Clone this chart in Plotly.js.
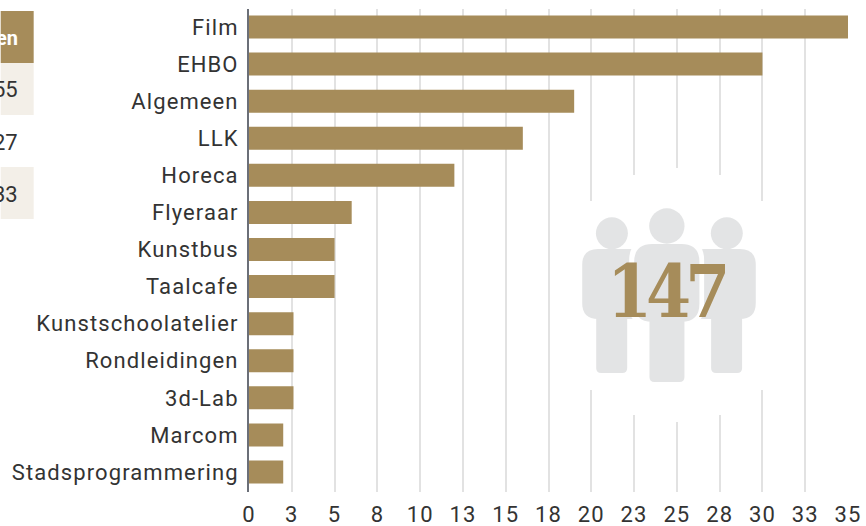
<!DOCTYPE html>
<html><head><meta charset="utf-8">
<script src="https://cdn.plot.ly/plotly-3.0.1.min.js"></script>
<style>html,body{margin:0;padding:0;background:#fff;overflow:hidden}#c{width:866px;height:526px}
.ytick text,.xtick text{letter-spacing:1.1px}
.annotation:last-of-type text{letter-spacing:-6px}</style>
</head><body><div id="c"></div>
<script>
const categories = ["Film","EHBO","Algemeen","LLK","Horeca","Flyeraar","Kunstbus","Taalcafe","Kunstschoolatelier","Rondleidingen","3d-Lab","Marcom","Stadsprogrammering"];
const values = [35,30,19,16,12,6,5,5,2.6,2.6,2.6,2,2];
const tickValues = [0,2.5,5,7.5,10,12.5,15,17.5,20,22.5,25,27.5,30,32.5,35];
const tickLabels = ["0","3","5","8","10","13","15","18","20","23","25","28","30","33","35"];
const tableHeader = "en";
const tableRows = ["55","27","33"];
const totalLabel = "147";

const W=866,H=526,L=248.5,R=848,T=9,B=492;
const GOLD="#a68c5a", GREY="#e3e4e5", CREAM="#f3efe8";
const px=x=>(x-L)/(R-L), py=y=>1-(y-T)/(B-T);
const pxShape=(o)=>Object.assign({xref:'paper',yref:'paper',layer:'above',line:{width:0}},o);
function rect(x0,y0,x1,y1,fill){
  return pxShape({type:'rect',x0:px(x0),x1:px(x1),y0:py(y0),y1:py(y1),fillcolor:fill});
}
function rrect(x0,y0,x1,y1,r,fill){
  const P=(x,y)=>px(x)+','+py(y);
  const d='M'+P(x0+r,y0)+'L'+P(x1-r,y0)+'Q'+P(x1,y0)+' '+P(x1,y0+r)+'L'+P(x1,y1-r)+'Q'+P(x1,y1)+' '+P(x1-r,y1)+'L'+P(x0+r,y1)+'Q'+P(x0,y1)+' '+P(x0,y1-r)+'L'+P(x0,y0+r)+'Q'+P(x0,y0)+' '+P(x0+r,y0)+'Z';
  return pxShape({type:'path',path:d.replace(/,/g,' '),fillcolor:fill});
}
function circle(cx,cy,r,fill){
  return pxShape({type:'circle',x0:px(cx-r),x1:px(cx+r),y0:py(cy+r),y1:py(cy-r),fillcolor:fill});
}
const shapes=[
  // white patch that interrupts the gridlines behind the figures
  rect(585,201,770,390,'#fff'),
  rect(625,175,727,415,'#fff'),
  rect(665,168,685,422,'#fff'),
  // left table
  rect(0,11,33,63,GOLD),
  rect(0,63,33,115,CREAM),
  rect(0,167,33,219,CREAM),
  // figures
  circle(611.7,233.3,16,GREY),
  circle(726.7,233.3,16,GREY),
  rrect(582,249,650,319,16,GREY),
  rrect(688,249,755.7,319,16,GREY),
  rrect(596,310,627,373,5,GREY),
  rrect(711,310,742,373,5,GREY),
  rrect(629,240,704,326,20,'#fff'),
  circle(666.7,226,17.7,GREY),
  rrect(634,244,699.3,321.7,18,GREY),
  rrect(649.3,310,684.3,382,5,GREY),
];
const textOf=(text,x,y,size,color,anchor,family,weight)=>({xref:'paper',yref:'paper',x:px(x),y:py(y),text,showarrow:false,xanchor:anchor,yanchor:'middle',font:{size,color,family,weight},borderpad:0,xshift:0});
const annotations=[
  textOf(tableHeader,18,38,20,'#fff','right','Roboto',700),
  ...tableRows.map((t,i)=>textOf(t,18,90+i*52,22,'#333','right','Roboto',400)),
  textOf(totalLabel,665,291,72,GOLD,'center','"DejaVu Serif Condensed", serif',700),
];
Plotly.newPlot('c',[{
  type:'bar',orientation:'h',y:categories,x:values,
  marker:{color:GOLD},width:0.62,hoverinfo:'x+y'
}],{
  width:W,height:H,paper_bgcolor:'#fff',plot_bgcolor:'#fff',showlegend:false,
  margin:{l:L,r:W-R,t:T,b:H-B,pad:0},
  font:{family:'Roboto',size:22,color:'#333'},
  xaxis:{range:[0,35],tickmode:'array',tickvals:tickValues,ticktext:tickLabels,showgrid:true,gridcolor:'#e2e2e2',gridwidth:2,zeroline:false,showline:false,ticks:'',ticklabelstandoff:7,tickfont:{size:22,color:'#333'},tickangle:0,automargin:false},
  yaxis:{type:'category',categoryorder:'array',categoryarray:categories,autorange:false,range:[12.54,-0.485],showgrid:false,zeroline:false,showline:true,linecolor:'#6b6f78',linewidth:2,ticks:'',ticklabelstandoff:4,tickfont:{size:22,color:'#333'},automargin:false},
  shapes,annotations
},{displayModeBar:false,responsive:false});
</script></body></html>
